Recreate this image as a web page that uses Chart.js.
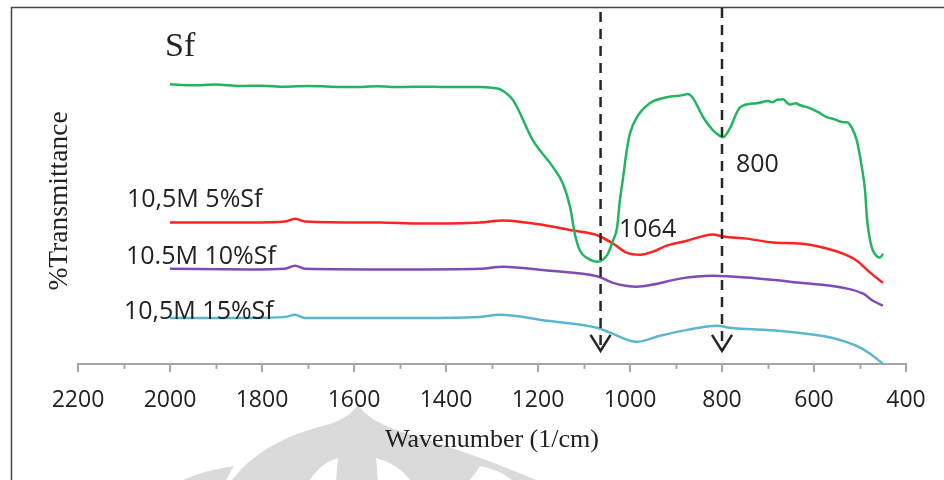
<!DOCTYPE html>
<html>
<head>
<meta charset="utf-8">
<script src="https://cdn.jsdelivr.net/npm/chart.js@4.4.1/dist/chart.umd.min.js"></script>
<style>
  html, body { margin: 0; padding: 0; background: #fff; }
  #wrap { position: relative; width: 944px; height: 480px; }
</style>
</head>
<body>
<div id="wrap"><canvas id="chart" width="944" height="480"></canvas></div>
<script>
// wavenumber (1/cm) and relative transmittance
const sfWn = [2000, 1950, 1900, 1850, 1800, 1750, 1700, 1650, 1600, 1550, 1500, 1450, 1400, 1350, 1326, 1300,
  1283, 1254, 1211, 1167, 1146, 1130, 1120, 1109, 1091, 1072, 1059, 1048, 1037, 1028, 1022, 1015, 1007, 1000,
  985, 957, 920, 885, 874, 863, 841, 820, 804, 798, 783, 761, 724, 700, 690, 680, 667, 660, 652, 640, 630,
  609, 590, 572, 555, 537, 528, 517, 507, 496, 489, 485, 478, 472, 463, 457, 450];
const sfT = [79.7, 79.4, 79.6, 79.2, 79.3, 79.0, 79.2, 79.0, 78.9, 79.1, 78.9, 79.0, 78.9, 78.9, 78.9, 78.7,
  78.3, 75.1, 63.7, 56.0, 51.4, 44.6, 37.1, 32.3, 30.0, 29.1, 29.7, 31.4, 35.1, 38.9, 46.6, 53.1, 60.9, 65.7,
  70.3, 74.3, 76.0, 76.6, 76.9, 75.7, 70.3, 66.6, 64.9, 64.6, 67.1, 73.1, 74.3, 74.9, 74.6, 75.3, 75.4, 74.6,
  73.9, 74.3, 73.7, 72.9, 71.7, 70.3, 69.7, 68.9, 68.9, 67.1, 63.7, 56.0, 49.4, 41.7, 35.1, 32.3, 30.6, 30.3, 31.4];

const m5Wn = [2000, 1826, 1750, 1728, 1707, 1543, 1457, 1326, 1276, 1180, 1124, 1070, 1037, 1007, 978, 950,
  920, 876, 820, 798, 746, 689, 630, 572, 537, 507, 478, 450];
const m5T = [40.3, 40.3, 40.6, 41.4, 40.6, 40.3, 40.0, 40.3, 40.9, 39.4, 38.0, 36.6, 34.3, 31.7, 31.1, 32.0,
  33.7, 35.1, 36.9, 36.3, 35.7, 34.6, 34.3, 32.9, 31.4, 29.4, 26.0, 23.1];

const m10Wn = [2000, 1826, 1750, 1728, 1707, 1500, 1326, 1276, 1180, 1070, 1037, 985, 950, 891, 820, 746,
  630, 537, 493, 472, 450];
const m10T = [27.1, 26.9, 27.1, 28.0, 27.1, 26.9, 27.1, 27.7, 26.6, 24.9, 23.1, 22.0, 22.6, 24.3, 25.1, 24.6,
  23.1, 21.7, 20.0, 18.0, 16.6];

const m15Wn = [2000, 1826, 1750, 1728, 1707, 1500, 1326, 1283, 1180, 1072, 1043, 985, 935, 876, 811, 783,
  674, 559, 507, 478, 450];
const m15T = [13.1, 13.1, 13.4, 14.0, 13.1, 13.1, 13.4, 14.0, 12.3, 10.3, 8.9, 6.3, 8.0, 9.7, 10.9, 10.3,
  9.4, 7.4, 5.1, 2.9, 0.0];

const peakMarks = [1064, 800];
const seriesNames = ['Sf', '10,5M 5%Sf', '10.5M 10%Sf', '10,5M 15%Sf'];

const pts = (xs, ys) => xs.map((x, i) => ({ x: x, y: ys[i] }));
const line = (label, xs, ys, color) => ({
  label: label, data: pts(xs, ys), borderColor: color, borderWidth: 2.5,
  pointRadius: 0, cubicInterpolationMode: 'monotone', fill: false
});

const SANS = '"Open Sans", sans-serif';
const SERIF = '"Liberation Serif", "DejaVu Serif", serif';

const decor = {
  id: 'decor',
  beforeDraw(chart) {
    const c = chart.ctx;
    c.save();
    // faint watermark in the lower part
    c.fillStyle = '#dadada';
    c.beginPath();
    c.moveTo(232, 480);
    c.quadraticCurveTo(262, 440, 330, 424);
    c.quadraticCurveTo(352, 416, 358, 404);
    c.quadraticCurveTo(366, 420, 402, 432);
    c.quadraticCurveTo(478, 455, 536, 480);
    c.closePath();
    c.fill();
    c.fillStyle = '#fff';
    c.beginPath();
    c.moveTo(310, 480);
    c.quadraticCurveTo(322, 462, 338, 458);
    c.lineTo(336, 480);
    c.closePath();
    c.fill();
    c.beginPath();
    c.moveTo(378, 480);
    c.lineTo(376, 458);
    c.quadraticCurveTo(398, 464, 410, 480);
    c.closePath();
    c.fill();
    c.beginPath();
    c.moveTo(470, 480);
    c.quadraticCurveTo(478, 470, 480, 466);
    c.quadraticCurveTo(500, 470, 512, 480);
    c.closePath();
    c.fill();
    c.fillStyle = '#dadada';
    c.beginPath();
    c.moveTo(183, 480);
    c.quadraticCurveTo(205, 470, 234, 466);
    c.lineTo(226, 480);
    c.closePath();
    c.fill();
    // frame
    c.strokeStyle = '#444';
    c.lineWidth = 1.5;
    c.beginPath();
    c.moveTo(11.5, 480);
    c.lineTo(11.5, 7.5);
    c.lineTo(944, 7.5);
    c.stroke();
    c.restore();
  },
  afterDraw(chart) {
    const c = chart.ctx;
    const xs = chart.scales.x;
    const bottom = chart.chartArea.bottom;
    c.save();
    // minor ticks
    c.strokeStyle = '#a6a6a6';
    c.lineWidth = 2;
    for (let v = 2100; v > 400; v -= 200) {
      const px = Math.round(xs.getPixelForValue(v)) + 0.5;
      c.beginPath();
      c.moveTo(px, bottom);
      c.lineTo(px, bottom + 5);
      c.stroke();
    }
    // dashed arrows at the marked peaks
    c.strokeStyle = '#262626';
    c.lineWidth = 2.5;
    peakMarks.forEach((wn, i) => {
      const px = xs.getPixelForValue(wn);
      const tip = bottom - 13;
      c.setLineDash([10, 7]);
      c.beginPath();
      c.moveTo(px, i === 0 ? 12 : 8);
      c.lineTo(px, tip);
      c.stroke();
      c.setLineDash([]);
      c.beginPath();
      c.moveTo(px - 10, tip - 16);
      c.lineTo(px, tip);
      c.lineTo(px + 10, tip - 16);
      c.stroke();
    });
    // texts
    c.fillStyle = '#222';
    c.textBaseline = 'middle';
    c.textAlign = 'left';
    c.font = '34px ' + SERIF;
    c.fillText(seriesNames[0], 165, 47);
    c.font = '25px ' + SANS;
    c.fillText(seriesNames[1], 127, 200);
    c.fillText(seriesNames[2], 126, 257);
    c.fillText(seriesNames[3], 124, 312);
    c.fillText(String(peakMarks[0]), 619, 230);
    c.fillText(String(peakMarks[1]), 736, 165);
    c.save();
    c.translate(60, 201);
    c.rotate(-Math.PI / 2);
    c.textAlign = 'center';
    c.font = '27.5px ' + SERIF;
    c.fillText('%Transmittance', 0, 0);
    c.restore();
    c.restore();
  }
};

new Chart(document.getElementById('chart'), {
  type: 'line',
  data: {
    datasets: [
      line(seriesNames[0], sfWn, sfT, '#24b45f'),
      line(seriesNames[1], m5Wn, m5T, '#ff2222'),
      line(seriesNames[2], m10Wn, m10T, '#7f4bb6'),
      line(seriesNames[3], m15Wn, m15T, '#5db6d0')
    ]
  },
  options: {
    responsive: false,
    animation: false,
    layout: { padding: { left: 78, right: 38, top: 13, bottom: 28 } },
    plugins: { legend: { display: false }, tooltip: { enabled: false } },
    scales: {
      x: {
        type: 'linear',
        reverse: true,
        min: 400,
        max: 2200,
        border: { display: true, color: '#a6a6a6', width: 2 },
        grid: {
          drawOnChartArea: false,
          tickLength: 8,
          lineWidth: 2,
          color: ctx => (ctx.tick && ctx.tick.value % 200 === 0) ? '#a6a6a6' : 'rgba(0,0,0,0)'
        },
        ticks: {
          stepSize: 100,
          autoSkip: false,
          maxRotation: 0,
          padding: 17,
          color: '#222',
          font: { family: SANS, size: 23, lineHeight: 1.0 },
          callback: v => (v % 200 === 0) ? String(v) : ''
        },
        title: {
          display: true,
          text: 'Wavenumber (1/cm)',
          color: '#222',
          font: { family: SERIF, size: 26, lineHeight: 0.85 },
          padding: { top: 0, bottom: 1 }
        }
      },
      y: { display: false, min: 0, max: 100 }
    }
  },
  plugins: [decor]
});
</script>
</body>
</html>
